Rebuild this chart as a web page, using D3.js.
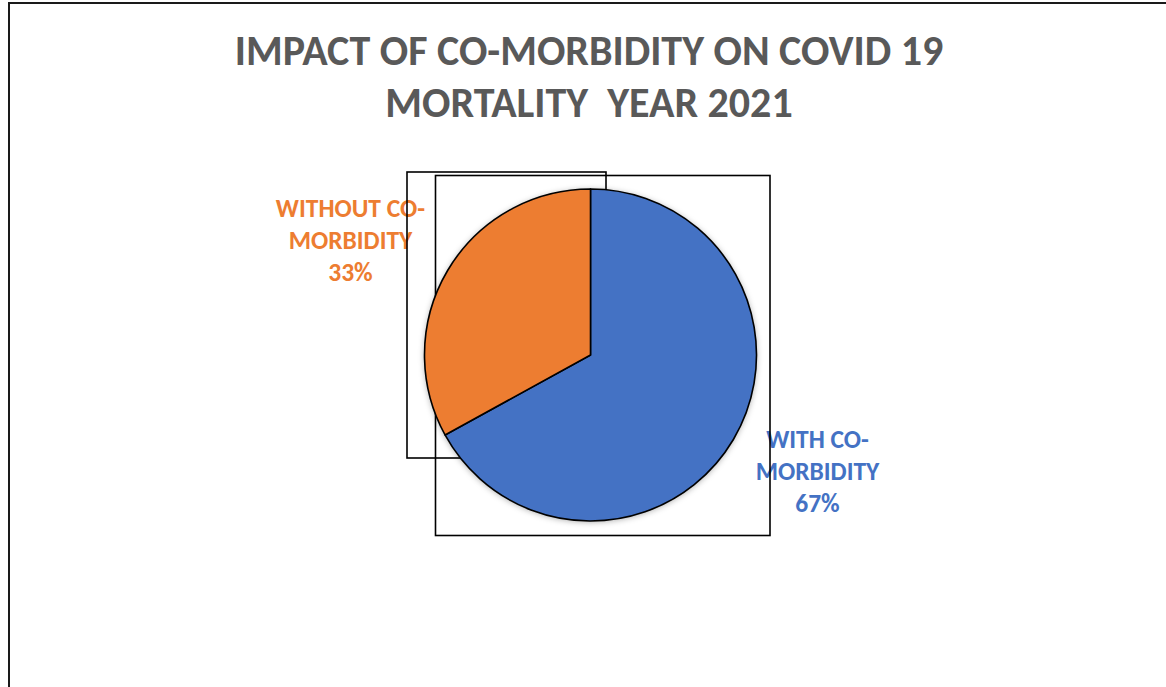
<!DOCTYPE html>
<html>
<head>
<meta charset="utf-8">
<script src="https://cdn.jsdelivr.net/npm/d3@7"></script>
<style>
  html, body { margin: 0; padding: 0; background: #fff; }
  svg { display: block; }
  text { font-family: Carlito, Calibri, Lato, "Open Sans", sans-serif; font-weight: bold; }
</style>
</head>
<body>
<svg id="chart" width="1166" height="687"></svg>
<script>
// Chart data
const categories = ["WITH CO-MORBIDITY", "WITHOUT CO-MORBIDITY"];
const labelLines = [["WITH CO-", "MORBIDITY"], ["WITHOUT CO-", "MORBIDITY"]];
const values = [67, 33];
const colors = ["#4472C4", "#ED7D31"];
const titleLines = ["IMPACT OF CO-MORBIDITY ON COVID 19", "MORTALITY  YEAR 2021"];

// Layout
const W = 1166, H = 687;
const cx = 590.5, cy = 355, radius = 166;
const labelOffsets = [{dx: 227, dy: 92.5}, {dx: -240, dy: -138}]; // first-line baseline relative to pie centre
const labelLineGap = 32;
const frames = [
  {x: 407, y: 172, w: 199, h: 286},
  {x: 435.5, y: 175.5, w: 334.5, h: 360}
];

const svg = d3.select("#chart");

// Soft shadow behind the pie
const defs = svg.append("defs");
const f = defs.append("filter").attr("id", "pieShadow")
  .attr("x", "-20%").attr("y", "-20%").attr("width", "140%").attr("height", "140%");
f.append("feDropShadow").attr("dx", 0).attr("dy", 1).attr("stdDeviation", 3)
  .attr("flood-color", "#000").attr("flood-opacity", 0.35);

// Chart area border
svg.append("rect")
  .attr("x", 9).attr("y", 3).attr("width", W + 50).attr("height", H + 50)
  .attr("fill", "none").attr("stroke", "#1a1a1a").attr("stroke-width", 2);

// Title
svg.append("text")
  .attr("x", 589).attr("text-anchor", "middle")
  .attr("fill", "#595959").attr("font-size", 42)
  .selectAll("tspan").data(titleLines).join("tspan")
  .attr("x", 589).attr("y", (d, i) => 65 + i * 52)
  .style("white-space", "pre")
  .attr("xml:space", "preserve")
  .text(d => d);

// Data labels
const total = d3.sum(values);
const labels = svg.append("g");
values.forEach((v, i) => {
  const lines = labelLines[i].concat([d3.format(".0%")(v / total)]);
  const t = labels.append("text")
    .attr("text-anchor", "middle")
    .attr("fill", colors[i]).attr("font-size", 25.5);
  t.selectAll("tspan").data(lines).join("tspan")
    .attr("x", cx + labelOffsets[i].dx)
    .attr("y", (d, j) => cy + labelOffsets[i].dy + j * labelLineGap)
    .text(d => d);
});

// Label frames
svg.append("g").selectAll("rect").data(frames).join("rect")
  .attr("x", d => d.x).attr("y", d => d.y)
  .attr("width", d => d.w).attr("height", d => d.h)
  .attr("fill", "none").attr("stroke", "#000").attr("stroke-width", 1.6);

// Pie
const pie = d3.pie().sort(null).value(d => d)(values);
const arc = d3.arc().innerRadius(0).outerRadius(radius);
const g = svg.append("g").attr("transform", `translate(${cx},${cy})`);
g.append("circle").attr("r", radius).attr("fill", "#fff").attr("filter", "url(#pieShadow)");
g.selectAll("path").data(pie).join("path")
  .attr("d", arc)
  .attr("fill", (d, i) => colors[i])
  .attr("stroke", "#000").attr("stroke-width", 1.6)
  .attr("stroke-linejoin", "round");
</script>
</body>
</html>
